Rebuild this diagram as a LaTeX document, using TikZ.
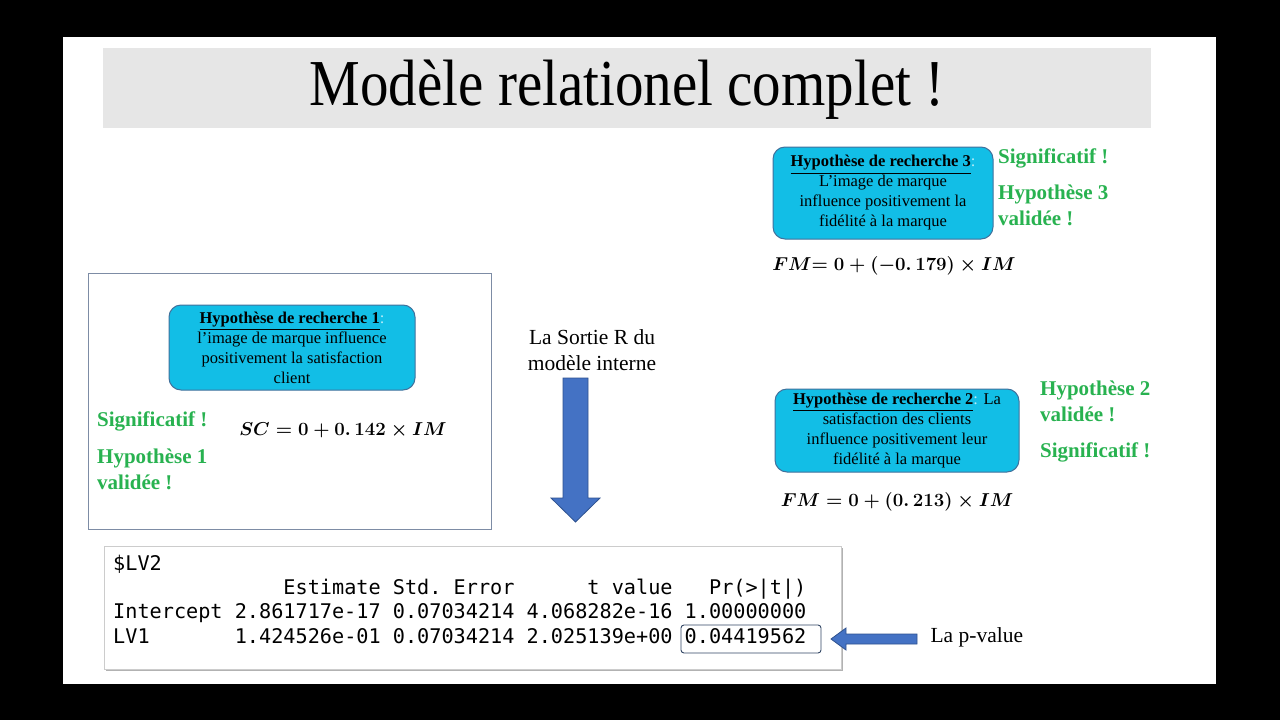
\documentclass[tikz,border=0pt]{standalone}
\usepackage{fontspec}
\setmainfont{Liberation Serif}
\setmonofont{DejaVu Sans Mono}
\usepackage{amsmath}

\definecolor{hypfill}{RGB}{18,190,230}
\definecolor{hypline}{RGB}{65,113,156}
\definecolor{okgreen}{RGB}{40,178,80}
\definecolor{arrowblue}{RGB}{68,114,196}
\definecolor{arrowline}{RGB}{47,82,143}
\definecolor{framegray}{RGB}{125,140,165}
\definecolor{titlegray}{RGB}{230,230,230}
\definecolor{pboxline}{RGB}{50,70,100}

\tikzset{
  hypbox/.style={draw=hypline, fill=hypfill, rounded corners=12pt, line width=1pt,
    align=center, inner sep=0pt, font=\fontsize{16.5}{20}\selectfont},
  verdict/.style={anchor=west, align=left, inner sep=0pt, text=okgreen,
    font=\bfseries\fontsize{21}{25.5}\selectfont},
  eqn/.style={inner sep=0pt, font=\fontsize{20.74}{24}\selectfont\boldmath},
  rline/.style={anchor=base west, inner sep=0pt, font=\ttfamily\fontsize{20.2}{24}\selectfont},
  blockarrow/.style={fill=arrowblue, draw=arrowline, line width=0.8pt},
}
\newcommand{\hyptitle}[1]{\textbf{\underline{Hypothèse de recherche #1}}\textcolor{hypfill!30!white}{:}}
\newcommand{\eqtext}[1]{\scalebox{0.9}{$#1$}}

\begin{document}
\begin{tikzpicture}[x=1pt,y=-1pt]
\useasboundingbox (0,0) rectangle (1280,720);
\fill[black] (0,0) rectangle (1280,720);
\fill[white] (63,37) rectangle (1216,684);

% title bar
\fill[titlegray] (103,48) rectangle (1151,128);
\node (title) at (627,90) {\fontsize{57}{60}\selectfont\scalebox{1}[1.15]{Modèle relationel complet !}};

% left panel: hypothesis 1
\draw[framegray, line width=1pt] (88,273) rectangle (491,529);
\node[hypbox, minimum width=246pt, minimum height=85pt] (hyp1) at (292,347.5)
  {\hyptitle{1}\\l’image de marque influence\\positivement la satisfaction\\client};
\node[verdict] (sig1) at (97,421) {Significatif !};
\node[verdict] (val1) at (97,469.5) {Hypothèse 1\\validée !};
\node[eqn] (eq1) at (343,430) {\eqtext{SC = 0 + 0.\,142 \times IM}};

% middle: R output arrow
\node[align=center, font=\fontsize{21.5}{26}\selectfont] (sortie) at (592,350) {La Sortie R du\\modèle interne};
\filldraw[blockarrow] (563,378) -- (588,378) -- (588,498) -- (600,498) -- (575.5,522)
  -- (551,498) -- (563,498) -- cycle;

% right: hypothesis 3
\node[hypbox, minimum width=220pt, minimum height=92pt] (hyp3) at (883,193)
  {\hyptitle{3}\\L’image de marque\\influence positivement la\\fidélité à la marque};
\node[verdict] (sig3) at (998,158) {Significatif !};
\node[verdict, font=\bfseries\fontsize{21}{26}\selectfont] (val3) at (998,205) {Hypothèse 3\\validée !};
\node[eqn] (eq3) at (894,266) {\eqtext{FM{=}\;0 + (-0.\,179) \times IM}};

% right: hypothesis 2
\node[hypbox, minimum width=244pt, minimum height=83pt] (hyp2) at (897,430.5)
  {\hyptitle{2} La\\satisfaction des clients\\influence positivement leur\\fidélité à la marque};
\node[verdict] (val2) at (1040,401.5) {Hypothèse 2\\validée !};
\node[verdict] (sig2) at (1040,452) {Significatif !};
\node[eqn] (eq2) at (897,502) {\eqtext{FM = 0 + (0.\,213) \times IM}};

% R output
\fill[black!30] (106,548) rectangle (843,671);
\filldraw[fill=white, draw=black!20] (104,546) rectangle (841,669);
\node[rline] (lv2) at (113,570) {\$LV2};
\node[rline] (head) at (113,594.3) {~~~~~~~~~~~~~~Estimate Std. Error~~~~~~t value~~~Pr(>|t|)};
\node[rline] (icpt) at (113,618.6) {Intercept 2.861717e-17 0.07034214 4.068282e-16 1.00000000};
\node[rline] (lv1) at (113,643) {LV1~~~~~~~1.424526e-01 0.07034214 2.025139e+00 0.04419562};
\node[draw=pboxline, rounded corners=3pt, line width=0.9pt, minimum width=140pt,
  minimum height=28pt, inner sep=0pt] (pbox) at (751,639) {};

% p-value pointer
\node[anchor=west, font=\fontsize{21.5}{26}\selectfont] (pval) at (927,637) {La p-value};
\filldraw[blockarrow] (917,634) -- (846,634) -- (846,628) -- (831,639) -- (846,650)
  -- (846,644) -- (917,644) -- cycle;

\end{tikzpicture}
\end{document}
